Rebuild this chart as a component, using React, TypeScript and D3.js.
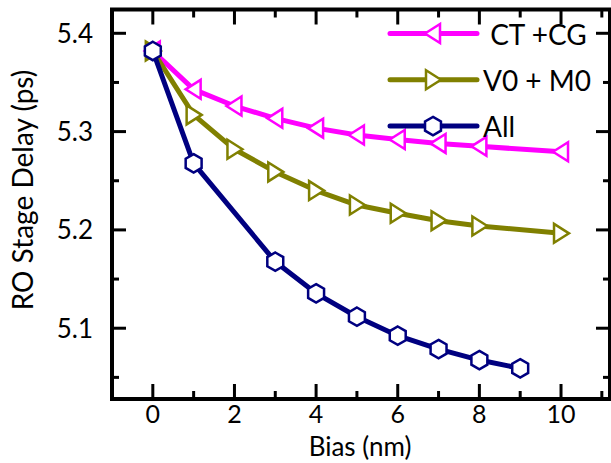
import React from 'react';
import * as d3 from 'd3';

const biasCtCg = [0, 1, 2, 3, 4, 5, 6, 7, 8, 10];
const delayCtCg = [5.382, 5.343, 5.326, 5.3135, 5.3035, 5.2965, 5.292, 5.288, 5.285, 5.2795];
const biasV0M0 = [0, 1, 2, 3, 4, 5, 6, 7, 8, 10];
const delayV0M0 = [5.382, 5.317, 5.282, 5.259, 5.240, 5.2253, 5.217, 5.2094, 5.204, 5.1965];
const biasAll = [0, 1, 3, 4, 5, 6, 7, 8, 9];
const delayAll = [5.382, 5.2677, 5.1677, 5.1355, 5.1117, 5.0924, 5.0788, 5.0676, 5.0592];

const xMajor = [0, 2, 4, 6, 8, 10];
const xMinor = [-1, 1, 3, 5, 7, 9, 11];
const yMajor = [5.1, 5.2, 5.3, 5.4];
const yMinor = [5.05, 5.15, 5.25, 5.35];

const series = [
  { name: ' CT +CG', color: '#ff00ff', marker: 'left', xs: biasCtCg, ys: delayCtCg },
  { name: 'V0 + M0', color: '#808000', marker: 'right', xs: biasV0M0, ys: delayV0M0 },
  { name: 'All', color: '#000080', marker: 'hex', xs: biasAll, ys: delayAll },
];

const W = 611;
const H = 463;
const margin = { left: 112, right: 1, top: 9.5, bottom: 64 };
const font = 'Lato, "Open Sans", sans-serif';

function markerPath(kind: string, cx: number, cy: number) {
  if (kind === 'left') {
    return `M${cx - 8},${cy} L${cx + 7},${cy - 9.5} L${cx + 7},${cy + 9.5} Z`;
  }
  if (kind === 'right') {
    return `M${cx + 8},${cy} L${cx - 7},${cy - 9.5} L${cx - 7},${cy + 9.5} Z`;
  }
  const r = 9.2;
  const pts = d3.range(6).map(i => {
    const a = (Math.PI / 3) * i - Math.PI / 2;
    return [cx + r * Math.cos(a), cy + r * Math.sin(a)];
  });
  return 'M' + pts.map(p => p.join(',')).join('L') + 'Z';
}

export default function App() {
  const x = d3.scaleLinear().domain([-1, 11.2]).range([margin.left, W - margin.right]);
  const y = d3.scaleLinear().domain([5.028, 5.4242]).range([H - margin.bottom, margin.top]);
  const [x0, x1] = x.range();
  const [y0, y1] = y.range();

  const line = d3.line<[number, number]>().x(d => x(d[0])).y(d => y(d[1]));

  return (
    <svg width={W} height={H} style={{ position: 'absolute', left: 0, top: 0 }} fontFamily={font}>
      <rect width={W} height={H} fill="white" />
      {series.map(s => {
        const pts = s.xs.map((v, i) => [v, s.ys[i]] as [number, number]);
        return (
          <g key={s.name}>
            <path d={line(pts) || ''} fill="none" stroke={s.color} strokeWidth={5} strokeLinejoin="round" />
            {pts.map((p, i) => (
              <path key={i} d={markerPath(s.marker, x(p[0]), y(p[1]))} fill="white" stroke={s.color} strokeWidth={2.5} />
            ))}
          </g>
        );
      })}
      {/* ticks */}
      <g stroke="black" strokeWidth={3}>
        {xMajor.map(v => (
          <g key={'xM' + v}>
            <line x1={x(v)} x2={x(v)} y1={y0} y2={y0 - 15} />
            <line x1={x(v)} x2={x(v)} y1={y1} y2={y1 + 15} />
          </g>
        ))}
        {xMinor.filter(v => x(v) > x0 + 2 && x(v) < x1 - 2).map(v => (
          <g key={'xm' + v}>
            <line x1={x(v)} x2={x(v)} y1={y0} y2={y0 - 8} />
            <line x1={x(v)} x2={x(v)} y1={y1} y2={y1 + 8} />
          </g>
        ))}
        {yMajor.map(v => (
          <g key={'yM' + v}>
            <line x1={x0} x2={x0 + 14} y1={y(v)} y2={y(v)} />
            <line x1={x1} x2={x1 - 14} y1={y(v)} y2={y(v)} />
          </g>
        ))}
        {yMinor.map(v => (
          <g key={'ym' + v}>
            <line x1={x0} x2={x0 + 7} y1={y(v)} y2={y(v)} />
            <line x1={x1} x2={x1 - 7} y1={y(v)} y2={y(v)} />
          </g>
        ))}
      </g>
      <rect x={x0} y={y1} width={x1 - x0} height={y0 - y1} fill="none" stroke="black" strokeWidth={4} />
      {/* tick labels */}
      {xMajor.map(v => (
        <text key={'xl' + v} x={x(v)} y={y0 + 24} textAnchor="middle" fontSize={25}>{v}</text>
      ))}
      {yMajor.map(v => (
        <text key={'yl' + v} x={x0 - 19} y={y(v) + 9.5} textAnchor="end" fontSize={26}>{v.toFixed(1)}</text>
      ))}
      <text x={(x0 + x1) / 2 - 1} y={456} textAnchor="middle" fontSize={26}>Bias (nm)</text>
      <text transform={`translate(33,190) rotate(-90)`} textAnchor="middle" fontSize={28}>RO Stage Delay (ps)</text>
      {/* legend */}
      {series.map((s, i) => {
        const ly = 33.5 + i * 46.3;
        return (
          <g key={'lg' + s.name}>
            <line x1={390} x2={477} y1={ly} y2={ly} stroke={s.color} strokeWidth={5} strokeLinecap="round" />
            <path d={markerPath(s.marker, 433, ly)} fill="white" stroke={s.color} strokeWidth={2.5} />
            <text x={483} y={ly + 11} fontSize={28} xmlSpace="preserve" style={{ whiteSpace: 'pre' }}>{s.name}</text>
          </g>
        );
      })}
    </svg>
  );
}
